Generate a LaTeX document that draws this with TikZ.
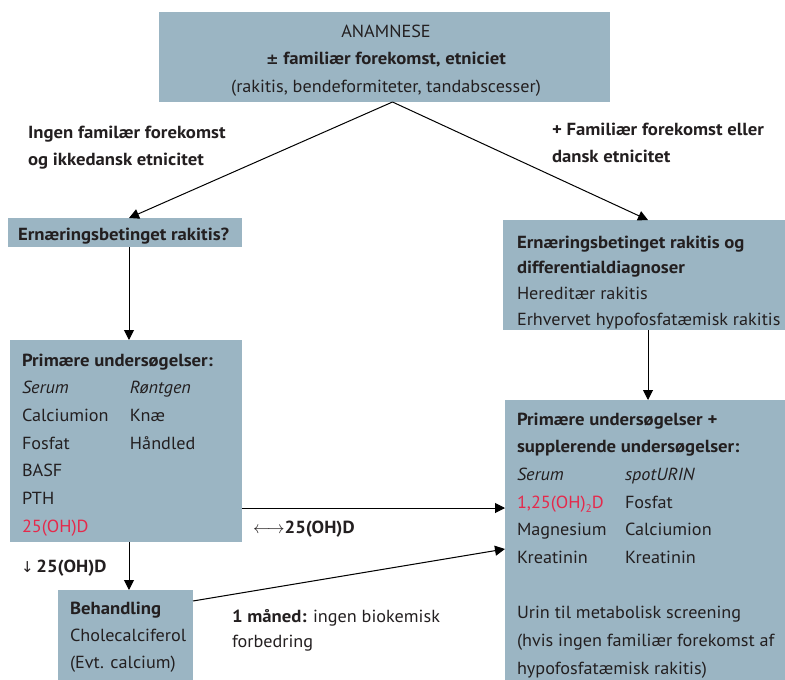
\documentclass[tikz,border=0pt]{standalone}
\usepackage{fontspec}
\setmainfont{PT Sans}[FakeStretch=1.04,BoldFeatures={FakeStretch=1.07},BoldItalicFeatures={FakeStretch=1.07}]
\newfontfamily\symf{DejaVu Sans}
\usetikzlibrary{arrows.meta,calc}
\definecolor{boxfill}{HTML}{9BB5C3}
\definecolor{ink}{HTML}{231F20}
\definecolor{redink}{HTML}{E5294B}
\newcommand\fsA{\fontsize{17.5}{27.7}\selectfont}
\newcommand\fsB{\fontsize{17.5}{25.7}\selectfont}
\newcommand\fsC{\fontsize{17.5}{27}\selectfont}
\begin{document}
\begin{tikzpicture}[x=1pt,y=-1pt,
  box/.style={fill=boxfill,draw=none,anchor=north west,inner sep=0pt,outer sep=0pt},
  txt/.style={anchor=base west,inner sep=0pt,outer sep=0pt,text=ink,font=\fsA},
  arr/.style={draw=black,line width=1pt,-{Triangle[length=10pt,width=10pt]}}]
\useasboundingbox (0,0) rectangle (785,680);
% column coordinates
\coordinate (lc) at (129,0);
\coordinate (rc) at (648,0);
\coordinate (hy) at (0,508);
% boxes
\node[box,minimum width=451pt,minimum height=90pt] (top) at (159,12) {};
\node[box,minimum width=234pt,minimum height=29pt] (ern) at (8,218) {};
\node[box,minimum width=282pt,minimum height=110pt] (diff) at (503,220) {};
\node[box,minimum width=232pt,minimum height=202pt] (lp) at (10,340) {};
\node[box,minimum width=280pt,minimum height=280pt] (rp) at (505,400) {};
\node[box,minimum width=135pt,minimum height=90pt] (beh) at (58,590) {};
% texts
\node[txt,anchor=base] (topt) at (386,37) {\begin{tabular}[t]{@{}c@{}}ANAMNESE\\ \textbf{{\symf\fontsize{15}{15}\selectfont ±} familiær forekomst, etniciet}\\ (rakitis, bendeformiteter, tandabscesser)\end{tabular}};
\node[txt,font=\fsC] (lab1) at (28,138) {\begin{tabular}[t]{@{}l@{}}\textbf{Ingen familær forekomst}\\ \textbf{og ikkedansk etnicitet}\end{tabular}};
\node[txt,font=\fsC] (lab2) at (552,135) {\begin{tabular}[t]{@{}l@{}}\textbf{+ Familiær forekomst eller}\\ \textbf{dansk etnicitet}\end{tabular}};
\node[txt] (ernt) at (18,240) {\textbf{Ernæringsbetinget rakitis?}};
\node[txt,font=\fsB] (difft) at (517,248) {\begin{tabular}[t]{@{}l@{}}\textbf{Ernæringsbetinget rakitis og}\\ \textbf{differentialdiagnoser}\\ Hereditær rakitis\\ Erhvervet hypofosfatæmisk rakitis\end{tabular}};
\node[txt] (lpt) at (22,366) {\begin{tabular}[t]{@{}p{108pt}@{}l@{}}\multicolumn{2}{@{}l@{}}{\textbf{Primære undersøgelser:}}\\ \textit{Serum} & \textit{Røntgen}\\ Calciumion & Knæ\\ Fosfat & Håndled\\ BASF & \\ PTH & \\ \textcolor{redink}{25(OH)D} & \end{tabular}};
\node[txt] (rpt) at (517,425) {\begin{tabular}[t]{@{}p{108pt}@{}l@{}}\multicolumn{2}{@{}l@{}}{\textbf{Primære undersøgelser +}}\\ \multicolumn{2}{@{}l@{}}{\textbf{supplerende undersøgelser:}}\\ \textit{Serum} & \textit{spotURIN}\\ \textcolor{redink}{1,25(OH)\raisebox{-4pt}{\fontsize{11}{11}\selectfont 2}D} & Fosfat\\ Magnesium & Calciumion\\ Kreatinin & Kreatinin\\ & \\ \multicolumn{2}{@{}l@{}}{Urin til metabolisk screening}\\ \multicolumn{2}{@{}l@{}}{(hvis ingen familiær forekomst af}\\ \multicolumn{2}{@{}l@{}}{hypofosfatæmisk rakitis)}\end{tabular}};
\node[txt,font=\fsC] (beht) at (70,614) {\begin{tabular}[t]{@{}l@{}}\textbf{Behandling}\\ Cholecalciferol\\ (Evt. calcium)\end{tabular}};
\node[txt] (down) at (21,572) {{\symf\fontsize{15}{15}\selectfont ↓}\,\textbf{25(OH)D}};
\node[txt] (both) at (253,533) {$\longleftrightarrow$\textbf{25(OH)D}};
\node[txt,font=\fontsize{17.5}{25}\selectfont] (mon) at (232,622) {\begin{tabular}[t]{@{}l@{}}\textbf{1 måned:} ingen biokemisk\\ forbedring\end{tabular}};
% connectors
\draw[arr] ($(top.south)+(8,0)$) -- (ern.north -| lc);
\draw[arr] ($(top.south)+(8,0)$) -- (diff.north -| rc);
\draw[arr] (ern.south -| lc) -- (lp.north -| lc);
\draw[arr] (lp.south -| lc) -- (beh.north -| lc);
\draw[arr] (diff.south -| rc) -- (rp.north -| rc);
\draw[arr] (lp.east |- hy) -- (rp.west |- hy);
\draw[arr] ($(beh.north east)+(0,11)$) -- ($(rp.north west)+(0,149)$);
\end{tikzpicture}
\end{document}
